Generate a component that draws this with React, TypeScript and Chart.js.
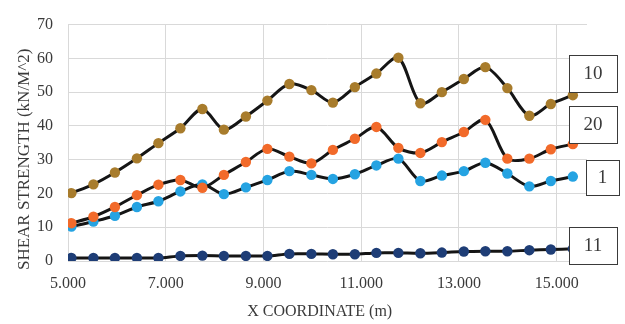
import React, { useEffect, useRef } from 'react';
import { Chart, registerables } from 'chart.js';

Chart.register(...registerables);

// X coordinates (m)
const xCoordinates = [5.07, 5.52, 5.96, 6.41, 6.85, 7.3, 7.75, 8.19, 8.64, 9.08, 9.53, 9.98, 10.42, 10.87, 11.31, 11.76, 12.21, 12.65, 13.1, 13.54, 13.99, 14.44, 14.88, 15.33];

// Shear strength (kN/M^2) per series
const series10 = [20.1, 22.7, 26.2, 30.4, 34.9, 39.3, 45.0, 38.9, 42.8, 47.5, 52.4, 50.6, 46.9, 51.5, 55.5, 60.2, 46.7, 50.0, 53.9, 57.4, 51.2, 43.0, 46.5, 49.1];
const series20 = [11.2, 13.1, 16.0, 19.5, 22.6, 24.0, 21.7, 25.5, 29.3, 33.2, 30.9, 28.9, 32.9, 36.2, 39.7, 33.5, 32.0, 35.2, 38.2, 41.8, 30.3, 30.3, 33.1, 34.6];
const series1 = [10.2, 11.7, 13.4, 16.0, 17.7, 20.6, 22.7, 19.8, 21.8, 24.0, 26.6, 25.5, 24.3, 25.7, 28.3, 30.3, 23.7, 25.3, 26.6, 29.1, 25.9, 22.1, 23.7, 25.0];
const series11 = [0.9, 0.9, 0.9, 0.9, 0.9, 1.5, 1.6, 1.5, 1.5, 1.5, 2.1, 2.1, 2.0, 2.0, 2.4, 2.4, 2.3, 2.5, 2.8, 2.9, 2.9, 3.2, 3.4, 3.6];

const seriesNames = ['10', '20', '1', '11'];
const seriesValues = [series10, series20, series1, series11];
const markerColors = ['#A87C2C', '#F26A2A', '#25A3E2', '#1E3D76'];

const xTickValues = [5, 7, 9, 11, 13, 15];
const yTickValues = [0, 10, 20, 30, 40, 50, 60, 70];

const xTitle = 'X COORDINATE (m)';
const yTitle = 'SHEAR STRENGTH (kN/M^2)';

const SERIF = "'Liberation Serif', 'Times New Roman', serif";
const TEXT = '#3a3a3a';

// label box placement relative to each series' last point
const boxStyles = [
  { dx: -3.5, dy: -40, w: 48, h: 37 },
  { dx: -3.5, dy: -38.5, w: 48, h: 37 },
  { dx: 13.5, dy: -17, w: 33, h: 35 },
  { dx: -3.5, dy: -22, w: 48, h: 37 },
];

const labelBoxesPlugin = {
  id: 'labelBoxes',
  afterDatasetsDraw(chart: any) {
    const ctx = chart.ctx;
    chart.data.datasets.forEach((ds: any, i: number) => {
      const meta = chart.getDatasetMeta(i);
      const last = meta.data[meta.data.length - 1];
      const s = boxStyles[i];
      const x = Math.round(last.x + s.dx);
      const y = Math.round(last.y + s.dy);
      ctx.save();
      ctx.fillStyle = '#ffffff';
      ctx.fillRect(x, y, s.w, s.h);
      ctx.strokeStyle = '#3a3a3a';
      ctx.lineWidth = 1;
      ctx.strokeRect(x + 0.5, y + 0.5, s.w, s.h);
      ctx.fillStyle = TEXT;
      ctx.font = `19px ${SERIF}`;
      ctx.textAlign = 'center';
      ctx.textBaseline = 'middle';
      ctx.fillText(ds.label, x + s.w / 2, y + s.h / 2 + 1);
      ctx.restore();
    });
  },
  afterDraw(chart: any) {
    const ctx = chart.ctx;
    const area = chart.chartArea;
    ctx.save();
    ctx.fillStyle = TEXT;
    ctx.textAlign = 'center';
    ctx.textBaseline = 'middle';
    ctx.font = `16px ${SERIF}`;
    ctx.fillText(xTitle, area.left + (area.right - area.left) * 0.485, 312);
    ctx.translate(25, area.top + (area.bottom - area.top) * 0.57);
    ctx.rotate(-Math.PI / 2);
    ctx.font = `17px ${SERIF}`;
    ctx.fillText(yTitle, 0, 0);
    ctx.restore();
  },
};

export default function App() {
  const canvasRef = useRef<HTMLCanvasElement | null>(null);

  useEffect(() => {
    if (!canvasRef.current) return;
    const datasets = seriesValues.map((vals, i) => ({
      label: seriesNames[i],
      data: vals.map((v, j) => ({ x: xCoordinates[j], y: v })),
      borderColor: '#151515',
      borderWidth: 3,
      tension: 0.3,
      pointRadius: 5.2,
      pointBackgroundColor: markerColors[i],
      pointBorderColor: markerColors[i],
      pointBorderWidth: 0,
      fill: false,
    }));
    // draw the upper series last so they sit on top
    const chart = new Chart(canvasRef.current, {
      type: 'line',
      data: { datasets },
      plugins: [labelBoxesPlugin],
      options: {
        responsive: false,
        animation: false,
        layout: { padding: { top: 19, right: 38, left: 0, bottom: 0 } },
        plugins: { legend: { display: false }, tooltip: { enabled: false } },
        scales: {
          x: {
            type: 'linear',
            min: 5,
            max: 15.62,
            afterBuildTicks: (scale: any) => {
              scale.ticks = xTickValues.map((v) => ({ value: v }));
            },
            afterFit: (scale: any) => {
              scale.height = 63;
            },
            grid: { color: '#d9d9d9', lineWidth: 1, drawTicks: false },
            border: { display: false },
            ticks: {
              padding: 13,
              color: TEXT,
              font: { family: SERIF, size: 16 },
              maxRotation: 0,
              autoSkip: false,
              callback: (v: any) => Number(v).toFixed(3),
            },
          },
          y: {
            min: 0,
            max: 70,
            afterBuildTicks: (scale: any) => {
              scale.ticks = yTickValues.map((v) => ({ value: v }));
            },
            afterFit: (scale: any) => {
              scale.width = 68;
            },
            grid: { color: '#d9d9d9', lineWidth: 1, drawTicks: false },
            border: { display: false },
            ticks: {
              padding: 15,
              color: TEXT,
              font: { family: SERIF, size: 16 },
              autoSkip: false,
            },
          },
        },
      } as any,
    });
    return () => chart.destroy();
  }, []);

  return (
    <div style={{ position: 'fixed', left: 0, top: 0, width: 625, height: 324, background: '#fff' }}>
      <canvas ref={canvasRef} width={625} height={324} />
    </div>
  );
}
